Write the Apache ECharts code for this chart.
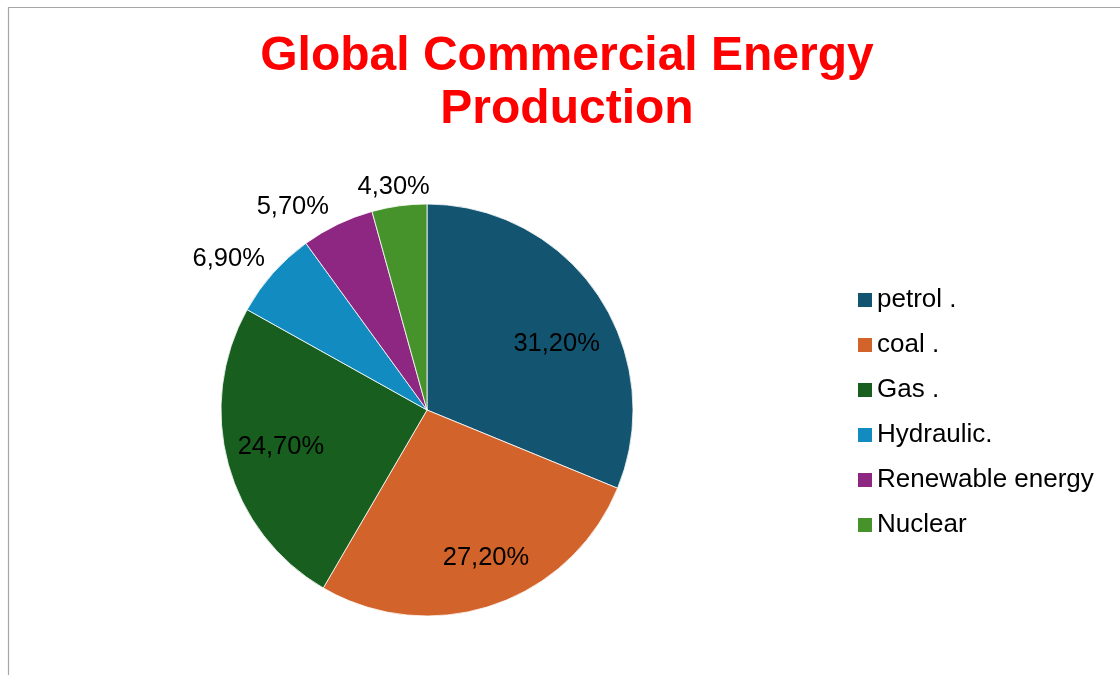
<!DOCTYPE html>
<html>
<head>
<meta charset="utf-8">
<title>Global Commercial Energy Production</title>
<script src="https://cdn.jsdelivr.net/npm/echarts@6/dist/echarts.min.js"></script>
<style>
  html, body { margin: 0; padding: 0; background: #ffffff; }
  #chart { width: 1120px; height: 675px; }
</style>
</head>
<body>
<div id="chart"></div>
<script>
// Energy sources and their share of global commercial production (%)
const sources = ['petrol .', 'coal .', 'Gas .', 'Hydraulic.', 'Renewable energy', 'Nuclear'];
const shares = [31.2, 27.2, 24.7, 6.9, 5.7, 4.3];
const sliceColors = ['#135570', '#D2632B', '#185E1F', '#128CC0', '#8D2782', '#46932C'];

// Slices whose percentage sits inside the pie; the rest are labelled outside it
const insideLabelled = ['petrol .', 'coal .', 'Gas .'];

// Small label nudges (px) relative to the ring position ECharts computes
const labelNudge = {
  'petrol .': [3, 19],
  'coal .': [10, 4],
  'Gas .': [1, -3],
  'Hydraulic.': [-24, 4],
  'Renewable energy': [-33, 7],
  'Nuclear': [-2, 8]
};

const FONT = '"Liberation Sans", Arial, Helvetica, sans-serif';
const CENTER = [427, 410];
const R = 206;

const fmtPct = v => v.toFixed(2).replace('.', ',') + '%';

const chart = echarts.init(document.getElementById('chart'), null, { renderer: 'canvas' });

// Transparent ring used only to place the percentage labels
function labelRing(radius, showFor) {
  return {
    type: 'pie',
    center: CENTER,
    radius: radius,
    clockwise: true,
    startAngle: 90,
    silent: true,
    avoidLabelOverlap: false,
    z: 3,
    itemStyle: { color: 'rgba(0,0,0,0)', borderWidth: 0 },
    emphasis: { disabled: true },
    labelLine: { show: false },
    label: {
      show: true,
      position: 'inside',
      formatter: p => fmtPct(p.value),
      color: '#000000',
      fontFamily: FONT,
      fontSize: 25.5
    },
    data: sources.map((name, i) => ({
      name: name,
      value: shares[i],
      label: { show: showFor(name), offset: labelNudge[name] }
    }))
  };
}

chart.setOption({
  animation: false,
  backgroundColor: '#ffffff',
  graphic: [{
    type: 'rect',
    silent: true,
    shape: { x: 8.5, y: 7.5, width: 1200, height: 700 },
    style: { fill: 'none', stroke: '#a6a6a6', lineWidth: 1.2 },
    z: -1
  }],
  title: {
    text: 'Global Commercial Energy\nProduction',
    left: 567,
    top: 30,
    textAlign: 'center',
    padding: 0,
    textStyle: {
      color: '#FF0000',
      fontFamily: FONT,
      fontWeight: 'bold',
      fontSize: 48,
      lineHeight: 53
    }
  },
  legend: {
    orient: 'vertical',
    left: 858,
    top: 287,
    padding: 0,
    icon: 'rect',
    itemWidth: 14,
    itemHeight: 14,
    itemGap: 19,
    selectedMode: false,
    data: sources,
    itemStyle: { borderWidth: 0 },
    textStyle: {
      color: '#000000',
      fontFamily: FONT,
      fontSize: 26,
      lineHeight: 26
    }
  },
  series: [
    {
      type: 'pie',
      name: 'Energy production',
      center: CENTER,
      radius: [0, R],
      clockwise: true,
      startAngle: 90,
      avoidLabelOverlap: false,
      z: 2,
      label: { show: false },
      labelLine: { show: false },
      emphasis: { disabled: true },
      itemStyle: { borderColor: '#ffffff', borderWidth: 0.8 },
      data: sources.map((name, i) => ({
        name: name,
        value: shares[i],
        itemStyle: { color: sliceColors[i] }
      }))
    },
    labelRing([93, R], name => insideLabelled.includes(name)),
    labelRing([R, 254], name => !insideLabelled.includes(name))
  ]
});
</script>
</body>
</html>
